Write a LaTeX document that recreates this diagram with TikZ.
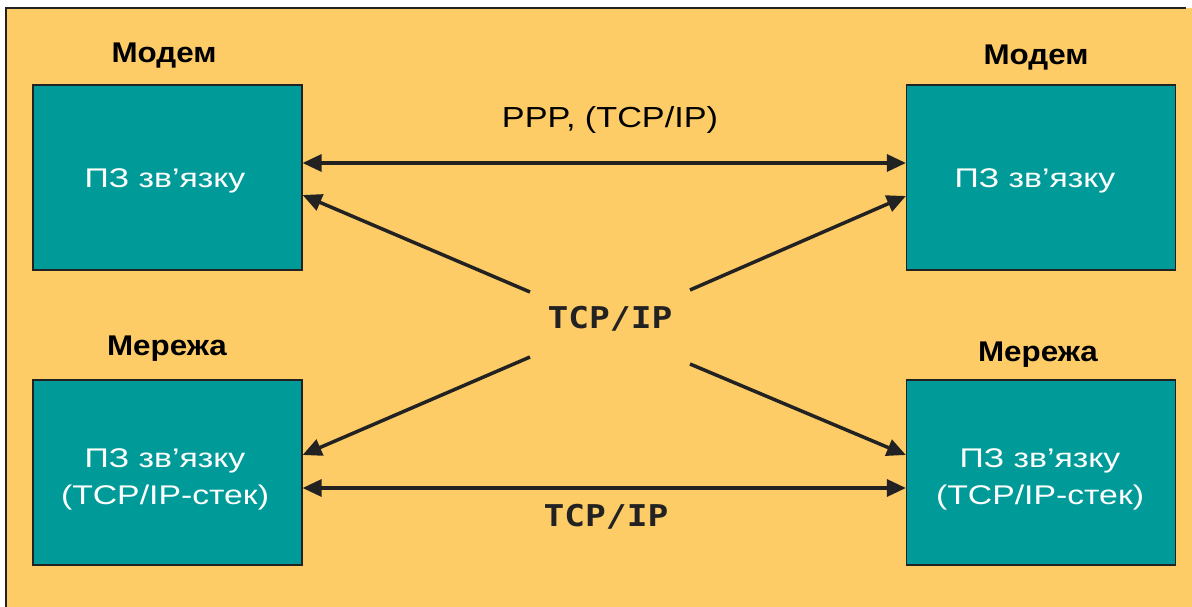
\documentclass[tikz,border=0pt]{standalone}
\usepackage{fontspec}
\setmainfont{Liberation Sans}[FakeStretch=1.18]
\newfontfamily\boxfont{Liberation Sans}[FakeStretch=1.25]
\newfontfamily\titlefont{Liberation Sans Bold}[FakeStretch=1.1]
\newfontfamily\monobold{DejaVu Sans Mono Bold}[FakeStretch=1.15]
\usetikzlibrary{arrows.meta}
\definecolor{bgyellow}{HTML}{FECC66}
\definecolor{tealbox}{HTML}{009B99}
\definecolor{ink}{HTML}{222222}
\tikzset{
  box/.style={draw=ink, line width=1.2pt, fill=tealbox, minimum width=269pt, minimum height=185pt,
    inner sep=0pt},
  boxtext/.style={anchor=base, inner sep=0pt, text=white, font=\fontsize{27}{37}\selectfont\boxfont},
  title/.style={anchor=base, inner sep=0pt, font=\fontsize{28.5}{32}\selectfont\titlefont, text=black},
  lab/.style={anchor=base, inner sep=0pt, font=\fontsize{29}{32}\selectfont, text=black},
  monolab/.style={anchor=base, inner sep=0pt, font=\fontsize{30}{34}\selectfont\monobold, text=ink},
  conn/.style={draw=ink, line width=3.5pt, -{Triangle[length=19pt,width=17pt]}},
  biconn/.style={draw=ink, line width=3.2pt, {Triangle[length=19pt,width=17pt]}-{Triangle[length=19pt,width=17pt]}},
}
\begin{document}
\begin{tikzpicture}[x=1pt,y=-1pt]
\useasboundingbox (0,0) rectangle (1192,607);
\fill[white] (0,0) rectangle (1192,607);
\fill[bgyellow] (6,8) rectangle (1192,607);
\draw[ink, line width=1.5pt] (6,607) -- (6,8) -- (1186,8);

\node[box] (ml) at (167.5,177.5) {};
\node[box] (mr) at (1041,177.5) {};
\node[box] (nl) at (167.5,472.5) {};
\node[box] (nr) at (1041,472.5) {};

\node[boxtext] (mlt) at (165,187) {ПЗ зв’язку};
\node[boxtext] (mrt) at (1035,187) {ПЗ зв’язку};
\node[boxtext] (nlt1) at (165,467) {ПЗ зв’язку};
\node[boxtext] (nlt2) at (165,504) {(TCP/IP-стек)};
\node[boxtext] (nrt1) at (1040,467) {ПЗ зв’язку};
\node[boxtext] (nrt2) at (1040,504) {(TCP/IP-стек)};

\node[title] (tml) at (164,63) {Модем};
\node[title] (tmr) at (1036,65) {Модем};
\node[title] (tnl) at (167,355) {Мережа};
\node[title] (tnr) at (1038,361) {Мережа};

\node[lab] (ppp) at (610,128) {PPP, (TCP/IP)};
\node[monolab] (tc) at (610,328) {TCP/IP};
\node[monolab] (tb) at (606,526) {TCP/IP};

\coordinate (a1) at (530,292);
\coordinate (a2) at (690,290);
\coordinate (a3) at (530,357);
\coordinate (a4) at (690,364);

\draw[biconn] (ml.east |- 0,163) -- (mr.west |- 0,163);
\draw[biconn] (nl.east |- 0,488) -- (nr.west |- 0,488);
\draw[conn] (a1) -- (ml.east |- 0,195);
\draw[conn] (a2) -- (mr.west |- 0,196);
\draw[conn] (a3) -- (nl.east |- 0,455);
\draw[conn] (a4) -- (nr.west |- 0,455);
\end{tikzpicture}
\end{document}
